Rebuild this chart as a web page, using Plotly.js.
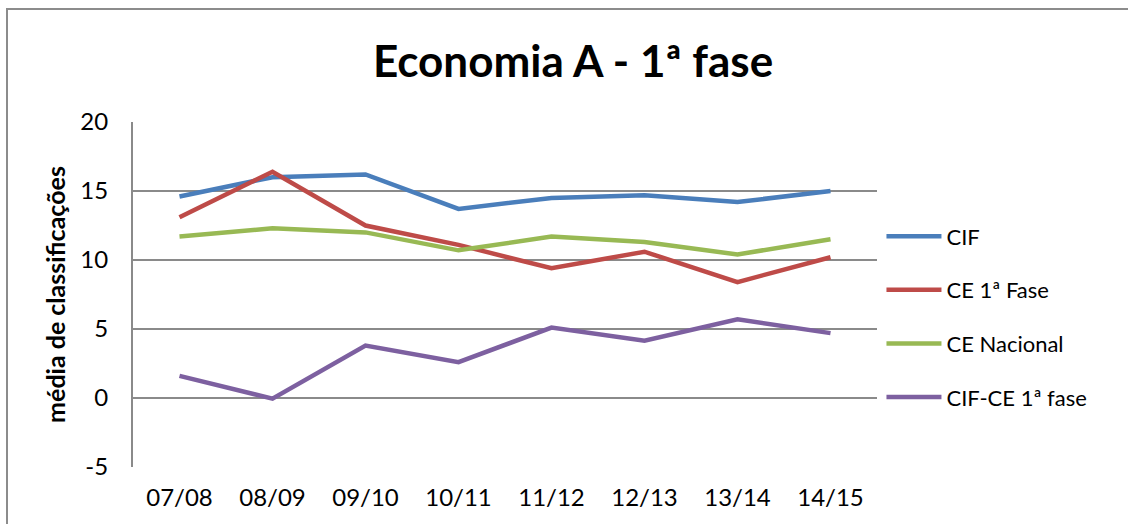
<!DOCTYPE html>
<html>
<head>
<meta charset="utf-8">
<script src="https://cdn.plot.ly/plotly-3.0.1.min.js"></script>
<style>
  html, body { margin: 0; padding: 0; background: #fff; overflow: hidden; width: 1128px; height: 524px; }
  #chart { width: 1128px; height: 524px; position: absolute; left: 0; top: 0; }
  .rule { position: absolute; background: #8c8c8c; pointer-events: none; }
  #frameTop { left: 6px; top: 8px; width: 1122px; height: 2px; }
  #frameLeft { left: 6px; top: 8px; width: 2px; height: 516px; }
</style>
</head>
<body>
<div id="chart"></div>
<div id="frameTop" class="rule"></div>
<div id="frameLeft" class="rule"></div>
<script>
const categories = ["07/08", "08/09", "09/10", "10/11", "11/12", "12/13", "13/14", "14/15"];
const cif        = [14.6, 16.0, 16.2, 13.7, 14.5, 14.7, 14.2, 15.0];
const ce1Fase    = [13.1, 16.4, 12.5, 11.1, 9.4, 10.6, 8.4, 10.2];
const ceNacional = [11.7, 12.3, 12.0, 10.7, 11.7, 11.3, 10.4, 11.5];
const cifMinusCe = [1.6, -0.05, 3.8, 2.6, 5.1, 4.15, 5.7, 4.7];
const yTicks = [-5, 0, 5, 10, 15, 20];

const seriesNames = ["CIF", "CE 1ª Fase", "CE Nacional", "CIF-CE 1ª fase"];
const seriesValues = [cif, ce1Fase, ceNacional, cifMinusCe];
const seriesColors = ["#4A7EBB", "#BE4B48", "#98B954", "#7D60A0"];

const FONT = "Lato, 'Open Sans', sans-serif";

const traces = seriesNames.map((name, i) => ({
  type: "scatter",
  mode: "lines",
  name: name,
  x: categories,
  y: seriesValues[i],
  legendgroup: "g" + i,
  line: { color: seriesColors[i], width: 4.5 },
  hoverinfo: "x+y+name"
}));

const layout = {
  width: 1128,
  height: 524,
  margin: { l: 133, r: 251, t: 122, b: 57, pad: 0 },
  paper_bgcolor: "#ffffff",
  plot_bgcolor: "#ffffff",
  font: { family: FONT, color: "#000000", size: 24 },
  title: {
    text: "<b>Economia A - 1ª fase</b>",
    font: { family: FONT, size: 44, color: "#000000" },
    xref: "container", x: 0.508, xanchor: "center",
    yref: "container", y: 0.882, yanchor: "middle"
  },
  xaxis: {
    type: "category",
    range: [-0.5, categories.length - 0.5],
    tickfont: { family: FONT, size: 24, color: "#000000" },
    showgrid: false,
    showline: false,
    zeroline: false,
    ticks: "",
    ticklabelstandoff: 14,
    fixedrange: true
  },
  yaxis: {
    range: [-5, 20],
    tickvals: yTicks,
    ticktext: yTicks.map(String),
    tickfont: { family: FONT, size: 24, color: "#000000" },
    showgrid: true,
    gridcolor: "#8a8a8a",
    gridwidth: 2,
    zeroline: false,
    showline: true,
    linecolor: "#8a8a8a",
    linewidth: 2,
    ticks: "",
    ticklabelstandoff: 18,
    automargin: false,
    title: {
      text: "<b>média de classificações</b>",
      font: { family: FONT, size: 25, color: "#000000" },
      standoff: 8
    },
    fixedrange: true
  },
  showlegend: true,
  legend: {
    x: 1.006, xanchor: "left",
    y: 0.435, yanchor: "middle",
    font: { family: FONT, size: 22, color: "#000000" },
    bgcolor: "rgba(0,0,0,0)",
    borderwidth: 0,
    itemwidth: 55,
    tracegroupgap: 22,
    traceorder: "grouped"
  }
};

Plotly.newPlot("chart", traces, layout, { displayModeBar: false, staticPlot: true });
</script>
</body>
</html>
